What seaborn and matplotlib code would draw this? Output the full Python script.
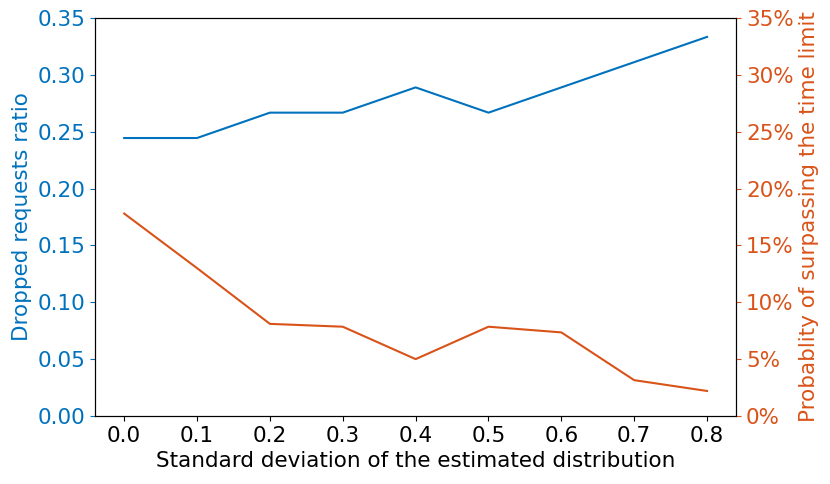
import matplotlib
matplotlib.use("Agg")
import matplotlib.pyplot as plt
import seaborn as sns

std_dev = [0.0, 0.1, 0.2, 0.3, 0.4, 0.5, 0.6, 0.7, 0.8]
dropped_ratio = [0.2444, 0.2444, 0.2667, 0.2667, 0.2889, 0.2667, 0.2889, 0.3111, 0.3333]
prob_surpass = [17.8, 13.0, 8.1, 7.85, 5.0, 7.85, 7.35, 3.15, 2.2]

blue = "#0072BD"
orange = "#D95319"

plt.rcParams["font.family"] = ["DejaVu Sans"]
plt.rcParams["font.size"] = 15.5

fig, ax1 = plt.subplots(figsize=(8.3, 4.84), dpi=100)
fig.subplots_adjust(left=0.1145, right=0.887, top=0.963, bottom=0.1405)

sns.lineplot(x=std_dev, y=dropped_ratio, ax=ax1, color=blue, linewidth=1.5)
ax1.set_ylim(0, 0.35)
ax1.set_yticks([0.0, 0.05, 0.10, 0.15, 0.20, 0.25, 0.30, 0.35])
ax1.set_yticklabels([f"{v:.2f}" for v in ax1.get_yticks()])
ax1.set_xticks(std_dev)
ax1.set_xticklabels([f"{v:.1f}" for v in std_dev])
ax1.set_xlabel("Standard deviation of the estimated distribution")
ax1.set_ylabel("Dropped requests ratio", color=blue)
ax1.tick_params(axis="y", colors=blue)

ax2 = ax1.twinx()
sns.lineplot(x=std_dev, y=prob_surpass, ax=ax2, color=orange, linewidth=1.5)
ax2.set_ylim(0, 35)
ax2.set_yticks(range(0, 36, 5))
ax2.set_yticklabels([f"{v}%" for v in range(0, 36, 5)])
ax2.set_ylabel("Probablity of surpassing the time limit", color=orange)
ax2.tick_params(axis="y", colors=orange)

fig.savefig("out.png", dpi=100)
